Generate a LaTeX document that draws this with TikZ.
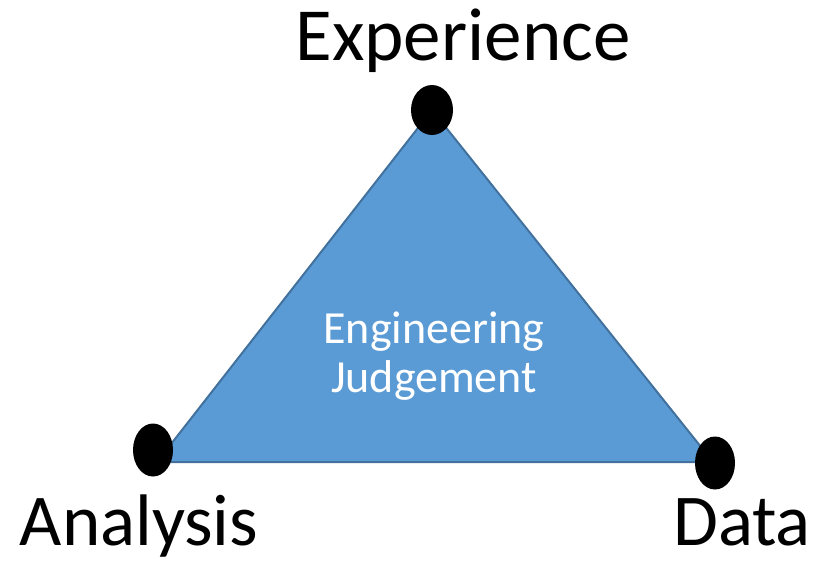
\documentclass[tikz,border=0pt]{standalone}
\usepackage{fontspec}
\setmainfont{Carlito}
\definecolor{triblue}{HTML}{5B9BD5}
\definecolor{triedge}{HTML}{41719C}

\begin{document}
\begin{tikzpicture}[x=1pt, y=1pt,
    vertice/.style={fill=black},
    rotulo/.style={anchor=base, font=\fontsize{73}{80}\selectfont},
    miolo/.style={align=center, text=white, font=\fontsize{46}{49}\selectfont}]

        \useasboundingbox (0,0) rectangle (813,-566);

        \coordinate (E) at (432,-110);
        \coordinate (A) at (153,-450);
        \coordinate (D) at (715,-463);

        % triangulo
        \draw[fill=triblue, draw=triedge, line width=2pt, line join=round]
            (E) -- (157,-462) -- (713,-462) -- cycle;

        % pontos nos vertices
        \fill[vertice] (E) ellipse (21 and 25);
        \fill[vertice] (A) ellipse (20 and 26.5);
        \fill[vertice] (D) ellipse (20 and 26.5);

        \node[rotulo, font=\fontsize{75}{80}\selectfont] (exp) at (463,-60) {Experience};
        \node[rotulo] (ana) at (139,-545) {Analysis};
        \node[rotulo] (dat) at (742,-545) {Data};

        % a ancora base fica na ultima linha
        \node[miolo, anchor=base] (eng) at (434,-392) {Engineering\\Judgement};
    \end{tikzpicture}
\end{document}
